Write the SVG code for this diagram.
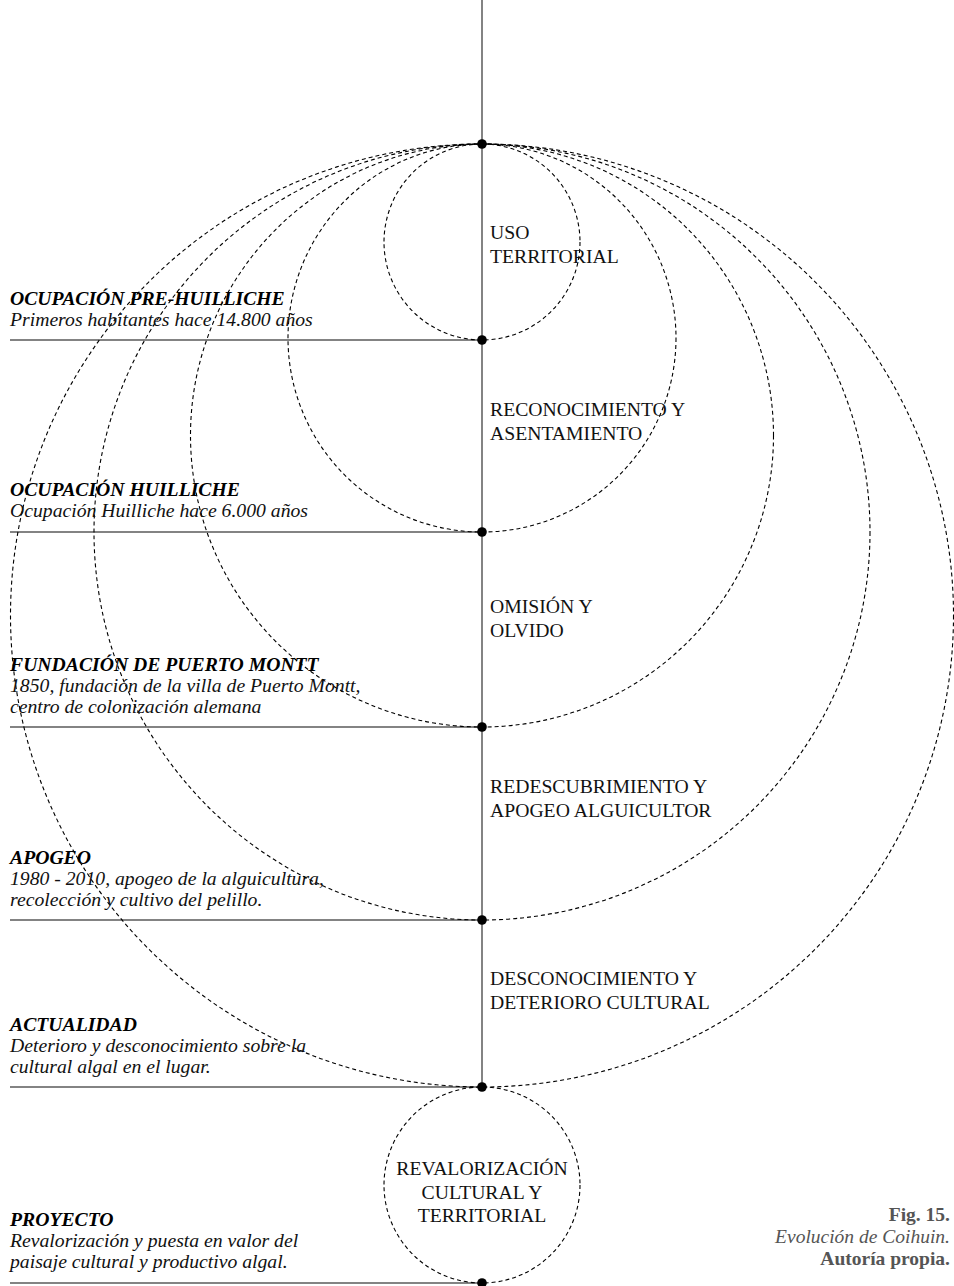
<svg xmlns="http://www.w3.org/2000/svg" width="954" height="1286" viewBox="0 0 954 1286">
<style>
  .arc{fill:none;stroke:#000;stroke-width:1.1;stroke-dasharray:4 3}
  .axis{stroke:#5a5a5a;stroke-width:1.5;fill:none}
  .dot{fill:#000}
  .lbl{font-family:"Liberation Serif","Times New Roman",serif;font-size:19.7px;fill:#111}
  .ttl{font-family:"Liberation Serif","Times New Roman",serif;font-size:19.7px;font-weight:bold;font-style:italic;fill:#000}
  .sub{font-family:"Liberation Serif","Times New Roman",serif;font-size:19.7px;font-style:italic;fill:#111}
  .cap{font-family:"Liberation Serif","Times New Roman",serif;font-size:19.5px;fill:#555;text-anchor:end}
</style>
<rect width="954" height="1286" fill="#fff"/>
<g id="connectors">
  <line class="axis" x1="482" y1="0" x2="482" y2="1087"/>
  <line class="axis" x1="10" y1="340" x2="482" y2="340"/>
  <line class="axis" x1="10" y1="532" x2="482" y2="532"/>
  <line class="axis" x1="10" y1="727" x2="482" y2="727"/>
  <line class="axis" x1="10" y1="920" x2="482" y2="920"/>
  <line class="axis" x1="10" y1="1087" x2="482" y2="1087"/>
  <line class="axis" x1="10" y1="1283" x2="482" y2="1283" stroke="#222"/>
</g>
<g id="circles">
  <circle class="arc" cx="482" cy="242" r="98"/>
  <circle class="arc" cx="482" cy="338" r="194"/>
  <circle class="arc" cx="482" cy="435.5" r="291.5"/>
  <circle class="arc" cx="482" cy="532" r="388"/>
  <circle class="arc" cx="482" cy="615.5" r="471.5"/>
  <circle class="arc" cx="482" cy="1185" r="98"/>
</g>
<g id="dots">
  <circle class="dot" cx="482" cy="144" r="4.8"/>
  <circle class="dot" cx="482" cy="340" r="4.8"/>
  <circle class="dot" cx="482" cy="532" r="4.8"/>
  <circle class="dot" cx="482" cy="727" r="4.8"/>
  <circle class="dot" cx="482" cy="920" r="4.8"/>
  <circle class="dot" cx="482" cy="1087" r="4.8"/>
  <circle class="dot" cx="482" cy="1283" r="4.8"/>
</g>
<g id="stage-uso">
  <text class="lbl" x="490" y="239">USO</text>
  <text class="lbl" x="490" y="263">TERRITORIAL</text>
</g>
<g id="stage-reconocimiento">
  <text class="lbl" x="490" y="416">RECONOCIMIENTO Y</text>
  <text class="lbl" x="490" y="440">ASENTAMIENTO</text>
</g>
<g id="stage-omision">
  <text class="lbl" x="490" y="613">OMISIÓN Y</text>
  <text class="lbl" x="490" y="637">OLVIDO</text>
</g>
<g id="stage-redescubrimiento">
  <text class="lbl" x="490" y="793">REDESCUBRIMIENTO Y</text>
  <text class="lbl" x="490" y="817">APOGEO ALGUICULTOR</text>
</g>
<g id="stage-desconocimiento">
  <text class="lbl" x="490" y="985">DESCONOCIMIENTO Y</text>
  <text class="lbl" x="490" y="1009">DETERIORO CULTURAL</text>
</g>
<g id="stage-revalorizacion">
  <text class="lbl" x="482" y="1175" text-anchor="middle">REVALORIZACIÓN</text>
  <text class="lbl" x="482" y="1199" text-anchor="middle">CULTURAL Y</text>
  <text class="lbl" x="482" y="1222" text-anchor="middle">TERRITORIAL</text>
</g>
<g id="event-pre-huilliche">
  <text class="ttl" x="10" y="304.5">OCUPACIÓN PRE-HUILLICHE</text>
  <text class="sub" x="10" y="325.5">Primeros habitantes hace 14.800 años</text>
</g>
<g id="event-huilliche">
  <text class="ttl" x="10" y="496">OCUPACIÓN HUILLICHE</text>
  <text class="sub" x="10" y="517">Ocupación Huilliche hace 6.000 años</text>
</g>
<g id="event-puerto-montt">
  <text class="ttl" x="10" y="670.5">FUNDACIÓN DE PUERTO MONTT</text>
  <text class="sub" x="10" y="691.5">1850, fundación de la villa de Puerto Montt,</text>
  <text class="sub" x="10" y="712.5">centro de colonización alemana</text>
</g>
<g id="event-apogeo">
  <text class="ttl" x="10" y="863.5">APOGEO</text>
  <text class="sub" x="10" y="884.5">1980 - 2010, apogeo de la alguicultura,</text>
  <text class="sub" x="10" y="905.5">recolección y cultivo del pelillo.</text>
</g>
<g id="event-actualidad">
  <text class="ttl" x="10" y="1031">ACTUALIDAD</text>
  <text class="sub" x="10" y="1052">Deterioro y desconocimiento sobre la</text>
  <text class="sub" x="10" y="1073">cultural algal en el lugar.</text>
</g>
<g id="event-proyecto">
  <text class="ttl" x="10" y="1226">PROYECTO</text>
  <text class="sub" x="10" y="1247">Revalorización y puesta en valor del</text>
  <text class="sub" x="10" y="1268">paisaje cultural y productivo algal.</text>
</g>
<g id="caption">
  <text class="cap" x="950" y="1221" font-weight="bold">Fig. 15.</text>
  <text class="cap" x="950" y="1243" font-style="italic" font-size="20.5px">Evolución de Coihuin.</text>
  <text class="cap" x="950" y="1265" font-weight="bold">Autoría propia.</text>
</g>
</svg>
